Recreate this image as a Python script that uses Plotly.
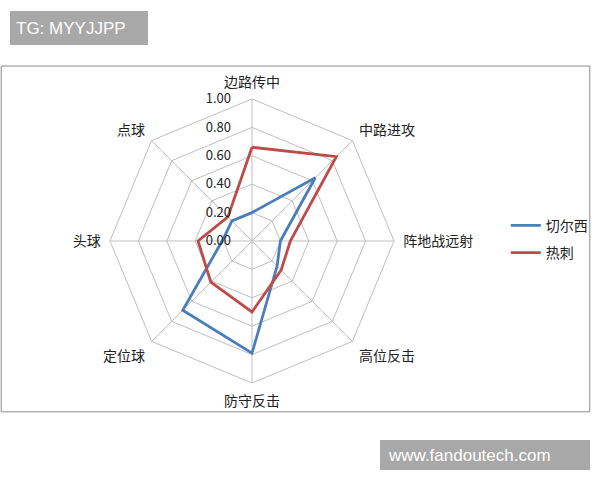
import plotly.graph_objects as go

# 雷达图的维度（顺时针，从正上方开始）
categories = ['边路传中', '中路进攻', '阵地战远射', '高位反击', '防守反击', '定位球', '头球', '点球']
chelsea = [0.20, 0.63, 0.20, 0.25, 0.79, 0.69, 0.21, 0.20]
spurs = [0.66, 0.84, 0.27, 0.29, 0.50, 0.41, 0.38, 0.24]
tick_vals = [0, 0.2, 0.4, 0.6, 0.8, 1.0]

font_cn = 'Noto Sans CJK SC, sans-serif'

fig = go.Figure()
fig.add_trace(go.Scatterpolar(r=chelsea + chelsea[:1], theta=categories + categories[:1],
                              mode='lines', name='切尔西', legendgroup='a',
                              line=dict(color='#4A7EBB', width=2.8)))
fig.add_trace(go.Scatterpolar(r=spurs + spurs[:1], theta=categories + categories[:1],
                              mode='lines', name='热刺', legendgroup='b',
                              line=dict(color='#BE4B48', width=2.8)))

fig.update_layout(
    width=600, height=480,
    margin=dict(l=0, r=0, t=0, b=0),
    paper_bgcolor='white',
    font=dict(family=font_cn, size=14, color='#222222'),
    polar=dict(
        domain=dict(x=[0.1833, 0.6567], y=[0.2021, 0.7938]),
        bgcolor='white',
        gridshape='linear',
        angularaxis=dict(rotation=90, direction='clockwise',
                         linecolor='#BFBFBF', linewidth=1,
                         gridcolor='#BFBFBF', gridwidth=1,
                         ticks='outside', ticklen=6, tickcolor='rgba(0,0,0,0)',
                         tickfont=dict(size=14, color='#222222')),
        radialaxis=dict(range=[0, 1], tickvals=tick_vals, tickformat='.2f',
                        angle=90, tickangle=90, side='counterclockwise',
                        showline=False, ticks='outside', ticklen=16,
                        tickcolor='rgba(0,0,0,0)',
                        gridcolor='#BFBFBF', gridwidth=1,
                        tickfont=dict(size=13, color='#222222')),
    ),
    legend=dict(x=0.843, y=0.563, xanchor='left', yanchor='top',
                font=dict(size=14), bgcolor='rgba(0,0,0,0)', tracegroupgap=6),
    shapes=[
        # 图表外框
        dict(type='rect', xref='paper', yref='paper', x0=0.002, x1=0.983,
             y0=0.142, y1=0.8625, line=dict(color='#8C8C8C', width=1)),
        # 水印底框
        dict(type='rect', xref='paper', yref='paper', x0=10/600, x1=148/600,
             y0=1-45/480, y1=1-11/480, fillcolor='#A8A8A8', line=dict(width=0)),
        dict(type='rect', xref='paper', yref='paper', x0=380/600, x1=590/600,
             y0=1-470/480, y1=1-440/480, fillcolor='#A8A8A8', line=dict(width=0)),
    ],
    annotations=[
        dict(text='TG: MYYJJPP', xref='paper', yref='paper', x=14/600, y=1-28/480,
             xanchor='left', yanchor='middle', showarrow=False,
             font=dict(family='Liberation Sans, Arial, sans-serif', size=17, color='white')),
        dict(text='www.fandoutech.com', xref='paper', yref='paper', x=386/600, y=1-455/480,
             xanchor='left', yanchor='middle', showarrow=False,
             font=dict(family='Liberation Sans, Arial, sans-serif', size=17, color='white')),
    ],
)

# 去掉页面默认的 8px 边距
fig.write_html('out.html', config={'displayModeBar': False},
               post_script="document.body.style.margin='0';")
